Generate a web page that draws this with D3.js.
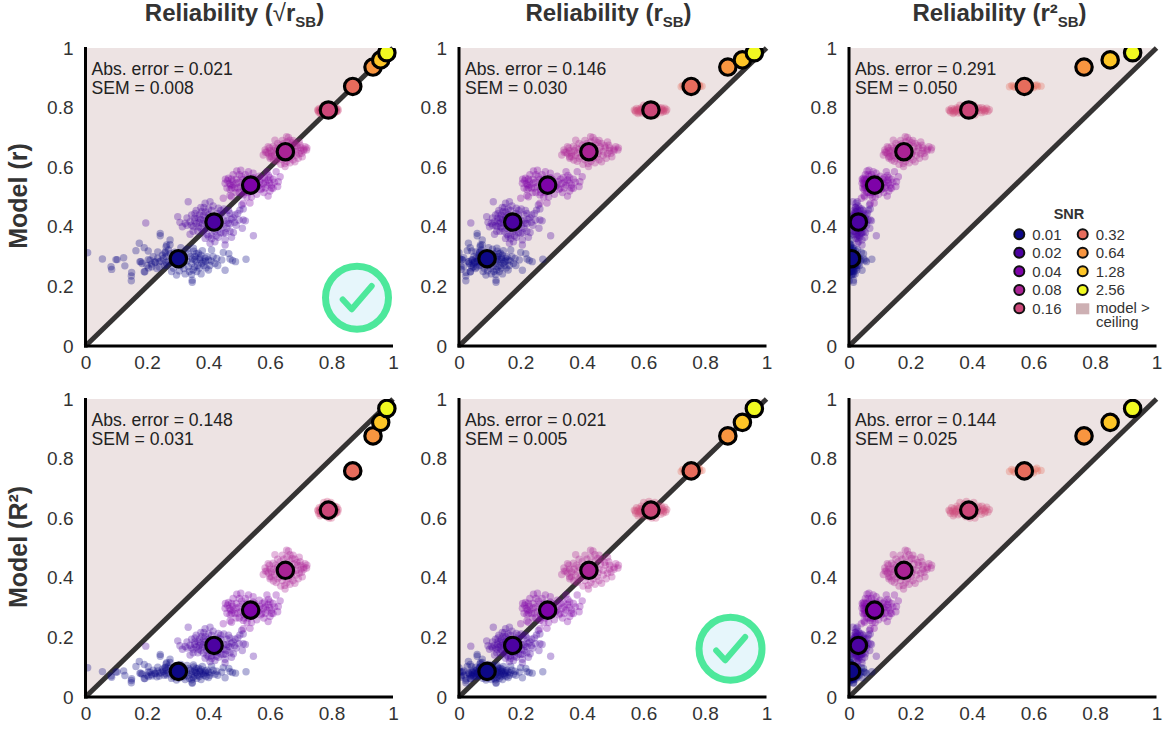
<!DOCTYPE html>
<html>
<head>
<meta charset="utf-8">
<script src="https://cdn.jsdelivr.net/npm/d3@7"></script>
<style>
  html, body { margin: 0; padding: 0; background: #fff; }
  svg { display: block; font-family: "Liberation Sans", Arial, sans-serif; }
  .tick_labels text { font-size: 19px; fill: #333; }
  .stat_text { font-size: 17.6px; fill: #222; }
  .col_title { font-size: 24px; font-weight: bold; fill: #333; }
  .row_title { font-size: 25px; font-weight: bold; fill: #333; }
  .legend_text { font-size: 15px; fill: #333; }
</style>
</head>
<body>
<script>
// SNR levels and their mean positions (sqrt r_SB vs r)
var snr_levels = ["0.01", "0.02", "0.04", "0.08", "0.16", "0.32", "0.64", "1.28", "2.56"];
var mean_reliability = [0.302, 0.418, 0.537, 0.650, 0.790, 0.869, 0.935, 0.960, 0.980];
var mean_model = [0.293, 0.416, 0.540, 0.652, 0.792, 0.871, 0.936, 0.960, 0.984];

// single subject clouds: [sqrt reliability, model r]
var cloud_001 = [[.007,.313],[.055,.292],[.083,.266],[.085,.257],[.099,.29],[.103,.29],[.124,.296],[.128,.269],
  [.15,.247],[.149,.235],[.149,.219],[.243,.378],[.243,.37],[.275,.356],[.175,.345],[.164,.32],[.191,.33],[.204,.319],
  [.235,.316],[.262,.333],[.259,.316],[.177,.283],[.18,.283],[.184,.277],[.191,.249],[.2,.27],[.216,.266],[.226,.28],
  [.232,.26],[.204,.29],[.22,.30],[.246,.285],[.262,.30],[.262,.28],[.256,.27],[.522,.291],[.488,.283],[.47,.292],
  [.478,.287],[.454,.254],[.448,.314],[.466,.31],[.443,.289],[.421,.277],[.427,.294],[.41,.322],[.408,.285],[.383,.283],
  [.389,.295],[.378,.278],[.4,.289],[.367,.311],[.356,.30],[.372,.296],[.351,.328],[.376,.242],[.347,.221],[.347,.214],
  [.324,.242],[.296,.238],[.334,.266],[.32,.26],[.345,.277],[.286,.261],[.264,.272],[.253,.294],[.24,.283],[.259,.312],
  [.27,.322],[.264,.339],[.275,.34],[.226,.283],[.21,.288],[.193,.249],[.34,.30],[.33,.285],[.36,.285],[.355,.265],
  [.385,.27],[.395,.30],[.335,.31],[.285,.30],[.29,.315],[.31,.27],[.365,.27],[.372,.29],[.348,.292],
  [.36,.31],[.375,.305],[.39,.285],[.405,.27],[.37,.262],[.35,.255],[.338,.25],[.362,.25],[.392,.262],[.415,.3],
  [.352,.318],[.33,.325],[.31,.33],[.275,.31],[.27,.285],[.25,.305],[.235,.295],[.215,.275],[.205,.262],[.24,.265],
  [.28,.25],[.305,.252],[.345,.24],[.4,.255],[.43,.27],[.38,.32],[.32,.3],[.355,.29]];
var cloud_002 = [[.196,.413],[.334,.484],[.546,.37],[.51,.395],[.513,.423],[.52,.42],[.499,.423],[.486,.44],[.47,.445],
  [.464,.412],[.481,.381],[.46,.42],[.432,.462],[.389,.479],[.405,.484],[.4,.46],[.378,.451],[.356,.445],[.366,.43],
  [.34,.417],[.324,.412],[.307,.415],[.3,.434],[.351,.4],[.368,.4],[.33,.405],[.383,.384],[.41,.372],[.389,.361],
  [.4,.368],[.421,.35],[.454,.356],[.454,.339],[.405,.345],[.448,.378],[.47,.385],[.502,.456],[.508,.473],[.513,.46],
  [.48,.43],[.495,.445],[.385,.42],[.37,.44],[.39,.43],[.38,.41],[.355,.42],[.36,.455],[.44,.44],[.45,.4],[.44,.38],
  [.43,.39],[.47,.41],[.395,.395],[.42,.385],[.375,.465],[.345,.44],[.41,.455],[.45,.46],[.435,.43],[.365,.385],
  [.432,.365],[.49,.405],[.35,.385],[.41,.395],[.46,.395],[.39,.45],[.315,.4],[.34,.375],[.475,.365],
  [.375,.425],[.385,.44],[.36,.41],[.345,.405],[.395,.41],[.45,.42],[.46,.44],[.475,.425],[.44,.405],[.455,.38],
  [.425,.37],[.41,.36],[.395,.375],[.375,.395],[.355,.43],[.37,.415],[.385,.465],[.415,.47],[.44,.455],[.485,.415],
  [.465,.455],[.43,.445],[.4,.44],[.33,.43]];
var cloud_004 = [[.492,.587],[.465,.563],[.454,.546],[.46,.53],[.448,.496],[.475,.501],[.492,.547],[.48,.54],[.475,.56],
  [.495,.53],[.508,.568],[.52,.575],[.567,.551],[.585,.55],[.594,.557],[.605,.54],[.61,.529],[.633,.568],[.627,.551],
  [.585,.53],[.573,.529],[.594,.503],[.557,.509],[.513,.479],[.513,.507],[.6,.565],[.595,.572],[.53,.585],[.545,.58],
  [.468,.545],[.47,.525],[.5,.515],[.505,.535],[.52,.55],[.515,.525],[.55,.525],[.56,.535],[.575,.56],[.615,.55],
  [.58,.515],[.565,.57],[.48,.575],[.455,.56],[.49,.56],[.53,.515],[.54,.5],[.61,.56],[.6,.52],[.62,.585],[.535,.48],
  [.505,.59],[.47,.505],[.59,.585],[.625,.535],[.475,.53],[.55,.56],
  [.478,.552],[.485,.53],[.5,.55],[.512,.558],[.5,.575],[.472,.54],[.462,.555],[.565,.54],[.578,.545],[.59,.54],
  [.598,.548],[.57,.525],[.555,.548],[.582,.565],[.605,.53],[.528,.53],[.54,.52],[.525,.5],[.515,.515],[.49,.515],
  [.545,.565],[.528,.562]];
var cloud_008 = [[.584,.658],[.578,.641],[.594,.669],[.616,.691],[.633,.674],[.654,.702],[.665,.691],[.681,.68],[.698,.674],
  [.714,.669],[.719,.658],[.703,.647],[.692,.63],[.67,.635],[.681,.618],[.649,.602],[.62,.62],[.611,.624],[.6,.635],
  [.6,.655],[.625,.66],[.605,.648],[.59,.65],[.615,.64],[.63,.635],[.64,.625],[.655,.62],[.675,.655],[.69,.665],
  [.7,.655],[.685,.64],[.665,.675],[.645,.68],[.625,.68],[.61,.67],[.66,.7],[.675,.69],[.695,.685],[.71,.655],
  [.635,.61],[.665,.615],[.6,.63],[.585,.65],[.705,.635],[.72,.665],[.655,.665],
  [.595,.645],[.598,.665],[.612,.655],[.62,.648],[.635,.65],[.618,.665],[.605,.635],[.625,.63],[.645,.635],[.66,.63],
  [.672,.645],[.685,.652],[.695,.645],[.7,.665],[.71,.66],[.688,.672],[.678,.668],[.672,.682],[.64,.69],[.655,.685],
  [.648,.612],[.675,.625]];
var cloud_016 = [[.755,.792],[.758,.785],[.76,.797],[.763,.78],[.765,.795],[.767,.788],[.77,.8],[.772,.782],[.778,.79],
  [.782,.805],[.785,.778],[.79,.795],[.795,.785],[.798,.808],[.803,.79],[.806,.8],[.81,.783],[.814,.795],[.816,.79],
  [.818,.798],[.82,.788],[.822,.793],[.768,.79],[.8,.775],[.775,.808],[.757,.79],[.762,.79],[.773,.796],[.776,.784],
  [.783,.798],[.788,.786],[.793,.802],[.797,.792],[.8,.784],[.804,.797],[.808,.79],[.811,.8],[.815,.786],[.78,.79],
  [.765,.784],[.77,.794],[.812,.792],[.786,.81],[.792,.775]];
var cloud_032 = [[.85,.87],[.853,.874],[.857,.868],[.86,.873],[.864,.869],[.868,.875],[.872,.868],[.875,.873],
  [.878,.87],[.882,.874],[.885,.871],[.889,.872],[.855,.871],[.862,.876],[.866,.866],[.874,.87],[.88,.867],[.884,.876]];
var cloud_064 = [[.93,.935],[.94,.937]];
var cloud_128 = [[.957,.96],[.963,.961]];
var cloud_256 = [[.978,.983],[.982,.985]];
var clouds = [cloud_001, cloud_002, cloud_004, cloud_008, cloud_016, cloud_032, cloud_064, cloud_128, cloud_256];

// panel labels
var column_exponents = [1, 2, 4];
var row_exponents = [1, 2];
var row_labels = ["Model (r)", "Model (R²)"];
var abs_errors = [["0.021", "0.146", "0.291"], ["0.148", "0.021", "0.144"]];
var sem_values = [["0.008", "0.030", "0.050"], ["0.031", "0.005", "0.025"]];
var good_panels = [[0, 0], [1, 1]];
var tick_values = [0, 0.2, 0.4, 0.6, 0.8, 1];
var tick_labels = ["0", "0.2", "0.4", "0.6", "0.8", "1"];

var column_left = [85.5, 459, 849];
var row_top = [48, 399];
var panel_width = 307.5,
    panel_height = 298;

var color = d3.scaleOrdinal()
    .domain(snr_levels)
    .range(d3.quantize(d3.interpolatePlasma, snr_levels.length));

var svg = d3.select("body").append("svg")
    .attr("width", 1163)
    .attr("height", 733);

function make_title(center, parts) {
    var title = svg.append("text")
        .attr("class", "col_title")
        .attr("x", center)
        .attr("y", 21)
        .attr("text-anchor", "middle");
    parts.forEach(function(p) {
        var t = title.append("tspan").text(p.text);
        if (p.dy) t.attr("dy", p.dy);
        if (p.size) t.style("font-size", p.size);
        if (p.weight) t.style("font-weight", p.weight);
    });
}

make_title(234.5, [{text: "Reliability ("}, {text: "√", weight: "normal"}, {text: "r"},
    {text: "SB", dy: 6, size: "15px"}, {text: ")", dy: -6}]);
make_title(608.5, [{text: "Reliability (r"}, {text: "SB", dy: 6, size: "15px"}, {text: ")", dy: -6}]);
make_title(999.5, [{text: "Reliability (r²"}, {text: "SB", dy: 6, size: "15px"}, {text: ")", dy: -6}]);

function make_panel(row, col) {
    // display axes are linear, data scales power-transform the read values
    var axis_x = d3.scaleLinear().domain([0, 1]).range([0, panel_width]);
    var axis_y = d3.scaleLinear().domain([0, 1]).range([panel_height, 0]);
    var scale_x = d3.scalePow().exponent(column_exponents[col]).domain([0, 1]).range([0, panel_width]);
    var scale_y = d3.scalePow().exponent(row_exponents[row]).domain([0, 1]).range([panel_height, 0]);

    var clip_id = "clip_" + row + "_" + col;
    svg.append("clipPath").attr("id", clip_id)
        .append("rect")
        .attr("x", column_left[col]).attr("y", row_top[row])
        .attr("width", panel_width + 8).attr("height", panel_height);

    var g = svg.append("g")
        .attr("transform", "translate(" + column_left[col] + ", " + row_top[row] + ")");

    // shaded region above the ceiling
    g.append("path")
        .attr("d", d3.line().x(function(d){return axis_x(d[0]);}).y(function(d){return axis_y(d[1]);})([[0,0],[0,1],[1,1]]))
        .attr("fill", "#ede3e3");

    // ceiling line
    g.append("line")
        .attr("x1", axis_x(0)).attr("y1", axis_y(0))
        .attr("x2", axis_x(1)).attr("y2", axis_y(1))
        .attr("stroke", "#353333")
        .attr("stroke-width", 5);

    // marks are clipped to the axes box
    var marks = svg.append("g")
        .attr("clip-path", "url(#" + clip_id + ")")
        .append("g")
        .attr("transform", "translate(" + column_left[col] + ", " + row_top[row] + ")");

    // clouds
    clouds.forEach(function(cloud, i) {
        marks.append("g").selectAll("circle")
            .data(cloud)
            .join("circle")
            .attr("cx", function(d){return scale_x(d[0]);})
            .attr("cy", function(d){return scale_y(d[1]);})
            .attr("r", 3.7)
            .attr("fill", color(snr_levels[i]))
            .attr("fill-opacity", 0.32);
    });

    // means
    marks.append("g").selectAll("circle")
        .data(snr_levels)
        .join("circle")
        .attr("cx", function(d, i){return scale_x(mean_reliability[i]);})
        .attr("cy", function(d, i){return scale_y(mean_model[i]);})
        .attr("r", 8.2)
        .attr("fill", function(d){return color(d);})
        .attr("stroke", "#000")
        .attr("stroke-width", 3.2);

    // axes
    var top_g = svg.append("g")
        .attr("transform", "translate(" + column_left[col] + ", " + row_top[row] + ")");
    top_g.append("g")
        .attr("class", "tick_labels")
        .attr("transform", "translate(0, " + panel_height + ")")
        .call(d3.axisBottom(axis_x)
            .tickValues(tick_values)
            .tickFormat(function(d, i){return tick_labels[i];})
            .tickSize(0)
            .tickPadding(10));
    top_g.append("g")
        .attr("class", "tick_labels")
        .call(d3.axisLeft(axis_y)
            .tickValues(tick_values)
            .tickFormat(function(d, i){return tick_labels[i];})
            .tickSize(0)
            .tickPadding(12));
    top_g.selectAll(".tick_labels .domain").remove();

    top_g.append("line").attr("x1", 0).attr("x2", 0).attr("y1", -1).attr("y2", panel_height + 1.5)
        .attr("stroke", "#000").attr("stroke-width", 3);
    top_g.append("line").attr("x1", -1.5).attr("x2", panel_width).attr("y1", panel_height).attr("y2", panel_height)
        .attr("stroke", "#000").attr("stroke-width", 3);

    // stats
    top_g.append("text").attr("class", "stat_text").attr("x", 6).attr("y", 27)
        .text("Abs. error = " + abs_errors[row][col]);
    top_g.append("text").attr("class", "stat_text").attr("x", 6).attr("y", 46)
        .text("SEM = " + sem_values[row][col]);

    // best match badge
    var is_good = good_panels.some(function(p){return p[0] === row && p[1] === col;});
    if (is_good) {
        var badge = top_g.append("g").attr("transform", "translate(271.5, 249.7)");
        badge.append("circle").attr("r", 31.5)
            .attr("fill", "#e6f6fb").attr("stroke", "#4de89b").attr("stroke-width", 7);
        badge.append("polyline").attr("points", "-14.3,1.7 -5.3,11.6 14.7,-11.7")
            .attr("fill", "none").attr("stroke", "#4de89b").attr("stroke-width", 6)
            .attr("stroke-linecap", "round").attr("stroke-linejoin", "round");
    }
}

row_top.forEach(function(t, r) {
    column_left.forEach(function(l, c) { make_panel(r, c); });
    svg.append("text")
        .attr("class", "row_title")
        .attr("transform", "translate(27, " + (t + 148) + ") rotate(270)")
        .attr("text-anchor", "middle")
        .text(row_labels[r]);
});

// legend
var legend = svg.append("g").attr("class", "legend");
var legend_rows = [234.3, 252.7, 271.3, 290, 308.3];
var legend_cols = [1019.3, 1082.7];
legend.append("text").attr("x", 1069).attr("y", 219).attr("text-anchor", "middle")
    .style("font-size", "14.5px").style("font-weight", "bold").style("fill", "#333").text("SNR");
snr_levels.forEach(function(s, i) {
    var c = i < 5 ? 0 : 1,
        r = i < 5 ? i : i - 5;
    legend.append("circle")
        .attr("cx", legend_cols[c]).attr("cy", legend_rows[r]).attr("r", 5)
        .attr("fill", color(s)).attr("stroke", "#111").attr("stroke-width", 2);
    legend.append("text").attr("class", "legend_text")
        .attr("x", legend_cols[c] + 13).attr("y", legend_rows[r] + 5.3).text(s);
});
legend.append("rect").attr("x", 1076).attr("y", 303.3).attr("width", 13.3).attr("height", 11)
    .attr("fill", "#cdb0b3");
// two line label kept as one text element
var ceiling_label = legend.append("text").attr("class", "legend_text").attr("y", 312.5);
ceiling_label.append("tspan").attr("x", 1096).text("model >");
ceiling_label.append("tspan").attr("x", 1096).attr("dy", 14.5).text("ceiling");
</script>
</body>
</html>
